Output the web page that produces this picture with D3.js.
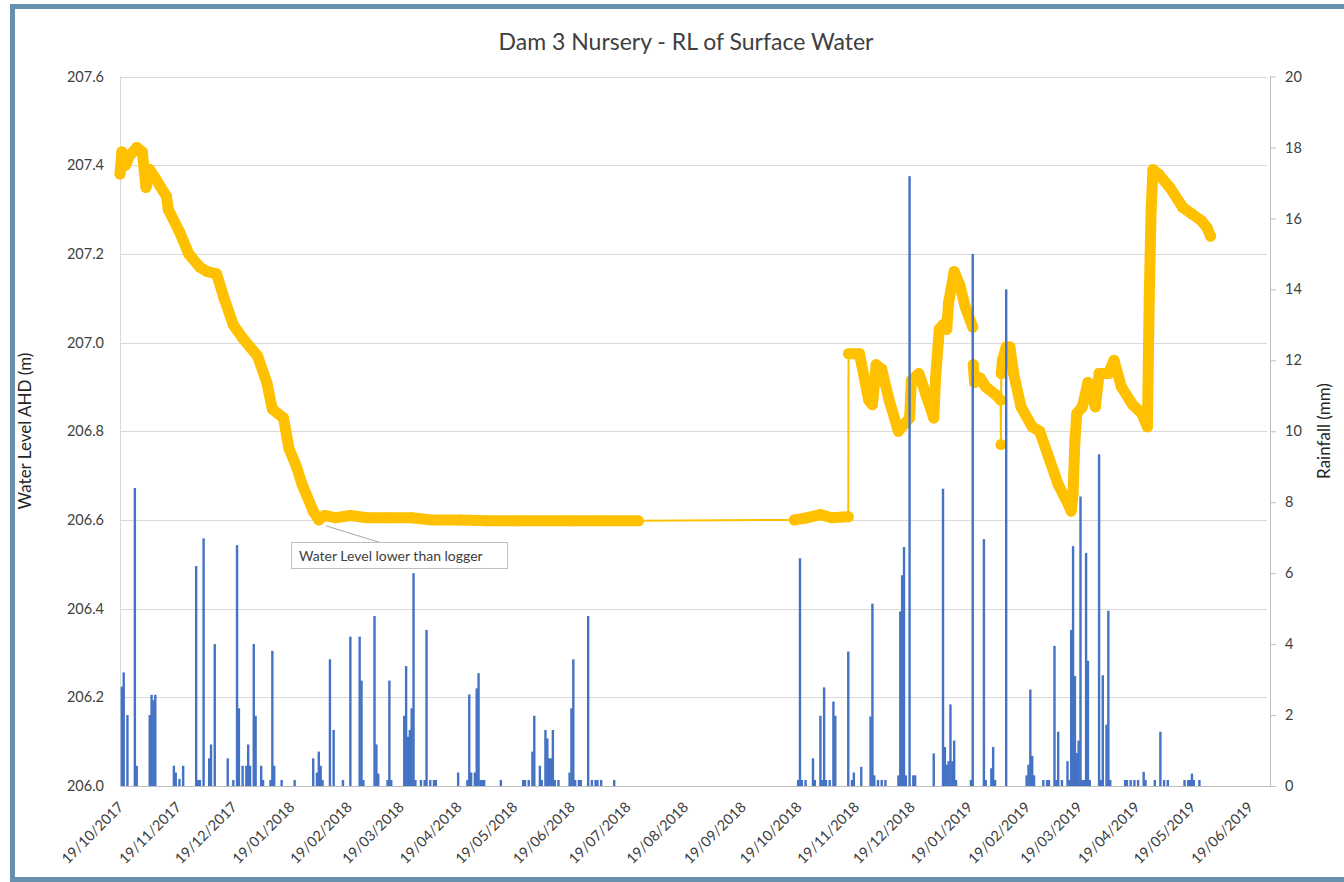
<!DOCTYPE html>
<html><head><meta charset="utf-8">
<script src="https://cdn.jsdelivr.net/npm/d3@7"></script>
<style>
body{margin:0;background:#fff}
svg{display:block}
text{font-family:Lato,'Open Sans',sans-serif}
</style>
</head><body>
<svg id="chart" width="1344" height="882"></svg>
<script>
// ---------------- DATA ----------------
const chartTitle = "Dam 3 Nursery - RL of Surface Water";
const leftTitle = "Water Level AHD (m)";
const rightTitle = "Rainfall (mm)";
const annotationText = "Water Level lower than logger";
const annotationDate = "2018-02-07";
const annotationValue = 206.6;

const xTickLabels = ["19/10/2017","19/11/2017","19/12/2017","19/01/2018","19/02/2018","19/03/2018","19/04/2018",
  "19/05/2018","19/06/2018","19/07/2018","19/08/2018","19/09/2018","19/10/2018","19/11/2018","19/12/2018",
  "19/01/2019","19/02/2019","19/03/2019","19/04/2019","19/05/2019","19/06/2019"];
const xAxisEnd = "2019-06-30";
const leftTicks = [206.0,206.2,206.4,206.6,206.8,207.0,207.2,207.4,207.6];
const rightTicks = [0,2,4,6,8,10,12,14,16,18,20];

const levelDates = [
 "2017-10-19","2017-10-20","2017-10-22","2017-10-24","2017-10-28","2017-10-31","2017-11-02","2017-11-04",
 "2017-11-07","2017-11-10","2017-11-13","2017-11-14","2017-11-20","2017-11-25","2017-12-01","2017-12-05",
 "2017-12-10","2017-12-14","2017-12-19","2017-12-24","2017-12-28","2018-01-01","2018-01-06","2018-01-09",
 "2018-01-15","2018-01-18","2018-01-22","2018-01-25","2018-01-31","2018-02-03","2018-02-06","2018-02-12",
 "2018-02-20","2018-03-01","2018-03-12","2018-03-25","2018-04-05","2018-04-20","2018-05-05","2018-05-20",
 "2018-06-05","2018-06-20","2018-07-05","2018-07-25",
 "2018-10-17","2018-10-24","2018-10-31","2018-11-06","2018-11-15 00:00","2018-11-15 03:00",
 "2018-11-21","2018-11-26","2018-11-28","2018-11-30","2018-12-03","2018-12-07","2018-12-12","2018-12-18",
 "2018-12-19","2018-12-23","2018-12-27","2018-12-31","2019-01-01","2019-01-03","2019-01-05","2019-01-07",
 "2019-01-08","2019-01-11","2019-01-14","2019-01-17","2019-01-21 00:00","2019-01-21 06:00","2019-01-22",
 "2019-01-25","2019-01-28","2019-02-03","2019-02-05 00:00","2019-02-05 04:00","2019-02-05 08:00",
 "2019-02-06","2019-02-08","2019-02-10","2019-02-12","2019-02-16","2019-02-22","2019-02-26","2019-03-03",
 "2019-03-08","2019-03-14","2019-03-15","2019-03-16","2019-03-17","2019-03-18","2019-03-21","2019-03-24",
 "2019-03-28","2019-03-30","2019-04-04","2019-04-07","2019-04-11","2019-04-17","2019-04-22","2019-04-25",
 "2019-04-26","2019-04-27","2019-04-28","2019-05-01","2019-05-07","2019-05-14","2019-05-19","2019-05-24",
 "2019-05-27","2019-05-29"];
const levelValues = [
 207.38,207.43,207.40,207.42,207.44,207.43,207.35,207.39,
 207.37,207.35,207.33,207.30,207.25,207.20,207.17,207.16,
 207.155,207.10,207.04,207.01,206.99,206.97,206.91,206.85,
 206.83,206.76,206.72,206.68,206.62,206.60,206.61,206.605,
 206.61,206.605,206.605,206.605,206.60,206.60,206.598,206.598,
 206.598,206.598,206.598,206.598,
 206.60,206.605,206.612,206.605,206.607,206.975,
 206.975,206.87,206.86,206.95,206.94,206.87,206.80,206.83,
 206.915,206.93,206.88,206.83,206.92,207.03,207.04,207.03,
 207.09,207.16,207.13,207.08,207.035,206.95,206.91,
 206.92,206.90,206.88,206.87,206.77,206.93,
 206.96,206.99,206.99,206.93,206.855,206.81,206.80,206.74,
 206.68,206.63,206.62,206.66,206.78,206.84,206.855,206.91,
 206.855,206.93,206.93,206.96,206.90,206.86,206.84,206.81,
 207.10,207.30,207.39,207.38,207.35,207.305,207.29,207.275,
 207.26,207.24];

const rainDates = [
 "2017-10-20","2017-10-21","2017-10-23","2017-10-27","2017-10-28","2017-11-04","2017-11-05","2017-11-06",
 "2017-11-07","2017-11-17","2017-11-18","2017-11-20","2017-11-22","2017-11-29","2017-11-30","2017-12-01",
 "2017-12-03","2017-12-06","2017-12-07","2017-12-09","2017-12-16","2017-12-19","2017-12-21","2017-12-22",
 "2017-12-24","2017-12-26","2017-12-27","2017-12-28","2017-12-30","2017-12-31","2018-01-03","2018-01-04",
 "2018-01-08","2018-01-09","2018-01-10","2018-01-14","2018-01-21","2018-01-31","2018-02-02","2018-02-03",
 "2018-02-04","2018-02-05","2018-02-09","2018-02-11","2018-02-16","2018-02-20","2018-02-25","2018-02-26",
 "2018-02-27","2018-03-05","2018-03-06","2018-03-07","2018-03-12","2018-03-13","2018-03-14","2018-03-21",
 "2018-03-22","2018-03-23","2018-03-24","2018-03-25","2018-03-26","2018-03-27","2018-03-30","2018-04-01",
 "2018-04-02","2018-04-04","2018-04-06","2018-04-07","2018-04-19","2018-04-24","2018-04-25","2018-04-26",
 "2018-04-28","2018-04-29","2018-04-30","2018-05-01","2018-05-02","2018-05-03","2018-05-12","2018-05-24",
 "2018-05-25","2018-05-27","2018-05-29","2018-05-30","2018-06-02","2018-06-03","2018-06-05","2018-06-06",
 "2018-06-07","2018-06-08","2018-06-09","2018-06-10","2018-06-12","2018-06-18","2018-06-19","2018-06-20",
 "2018-06-21","2018-06-23","2018-06-24","2018-06-28","2018-06-30","2018-07-02","2018-07-03","2018-07-05",
 "2018-07-12",
 "2018-10-19","2018-10-20","2018-10-21","2018-10-23","2018-10-27","2018-10-28","2018-10-31","2018-11-01",
 "2018-11-02","2018-11-03","2018-11-05","2018-11-07","2018-11-08","2018-11-15","2018-11-17","2018-11-18",
 "2018-11-22","2018-11-27","2018-11-28","2018-11-29","2018-12-01","2018-12-03","2018-12-05","2018-12-12",
 "2018-12-13","2018-12-14","2018-12-15","2018-12-16","2018-12-18","2018-12-20","2018-12-21","2018-12-31",
 "2019-01-05","2019-01-06","2019-01-07","2019-01-08","2019-01-09","2019-01-10","2019-01-11","2019-01-12",
 "2019-01-20","2019-01-21","2019-01-27","2019-01-28","2019-01-31","2019-02-01","2019-02-02","2019-02-08",
 "2019-02-19","2019-02-20","2019-02-21","2019-02-22","2019-02-23","2019-02-28","2019-03-02","2019-03-03",
 "2019-03-06","2019-03-07","2019-03-08","2019-03-10","2019-03-13","2019-03-14","2019-03-15","2019-03-16",
 "2019-03-17","2019-03-18","2019-03-19","2019-03-20","2019-03-21","2019-03-22","2019-03-23","2019-03-24",
 "2019-03-25","2019-03-30","2019-03-31","2019-04-01","2019-04-03","2019-04-04","2019-04-05","2019-04-13",
 "2019-04-14","2019-04-16","2019-04-18","2019-04-20","2019-04-23","2019-04-24","2019-04-29","2019-05-02",
 "2019-05-04","2019-05-06","2019-05-15","2019-05-17","2019-05-18","2019-05-19","2019-05-20","2019-05-23"];
const rainValues = [
 2.8,3.2,2.0,8.4,0.57,2.0,2.57,2.42,
 2.57,0.57,0.38,0.2,0.57,6.2,0.17,0.17,
 6.98,0.78,1.17,4.0,0.78,0.17,6.79,2.19,
 0.57,0.57,1.17,0.57,4.0,1.98,0.57,0.17,
 0.17,3.81,0.57,0.17,0.17,0.78,0.38,0.97,
 0.57,0.17,3.57,1.58,0.17,4.21,4.21,2.97,
 0.17,4.79,1.17,0.35,0.17,2.97,0.17,1.98,
 3.38,1.39,1.58,2.19,6.0,0.17,0.17,0.17,
 4.4,0.17,0.17,0.17,0.38,0.17,2.58,0.38,
 0.38,2.75,3.18,0.17,0.17,0.17,0.17,0.17,
 0.17,0.17,0.97,1.98,0.57,0.17,1.58,1.34,
 0.78,0.78,1.58,0.17,0.17,0.38,2.19,3.57,
 0.17,0.17,0.17,4.79,0.17,0.17,0.17,0.17,
 0.17,
 0.17,6.42,0.17,0.17,0.78,0.17,1.98,0.17,
 2.78,0.17,0.17,2.38,1.98,3.79,0.17,0.38,
 0.54,1.96,5.14,0.3,0.17,0.17,0.17,0.3,
 4.92,5.94,6.74,0.3,17.19,0.3,0.3,0.92,
 8.38,1.1,0.6,0.7,2.3,0.7,1.28,0.17,
 0.17,15.0,6.96,0.17,0.5,1.1,0.17,14.0,
 0.3,0.6,2.72,0.85,0.3,0.17,0.17,0.17,
 3.95,0.17,1.53,0.17,0.7,0.17,4.4,6.76,
 3.1,0.93,1.28,8.16,0.17,0.17,6.57,3.53,
 0.17,9.35,0.17,3.12,1.73,4.94,0.17,0.17,
 0.17,0.17,0.17,0.17,0.4,0.17,0.17,1.53,
 0.17,0.17,0.17,0.17,0.17,0.35,0.17,0.17];

// ---------------- CHART ----------------
const parseDay = d3.timeParse("%Y-%m-%d");
const parseHour = d3.timeParse("%Y-%m-%d %H:%M");
const parseTick = d3.timeParse("%d/%m/%Y");
const P = s => s.length > 10 ? parseHour(s) : parseDay(s);

const svg = d3.select("#chart");
const M = {l:120, r:1270, t:76.5, b:786};
const textCol = "#404040";
const FONT = "Lato,'Open Sans',sans-serif";

const x = d3.scaleTime().domain([parseTick(xTickLabels[0]), parseDay(xAxisEnd)]).range([M.l, M.r]);
const yL = d3.scaleLinear().domain([leftTicks[0], leftTicks[leftTicks.length-1]]).range([M.b, M.t]);
const yR = d3.scaleLinear().domain([rightTicks[0], rightTicks[rightTicks.length-1]]).range([M.b, M.t]);

svg.append("rect").attr("x",0).attr("y",0).attr("width",1344).attr("height",882).attr("fill","#fff");

// gridlines
svg.append("g").selectAll("line").data(leftTicks.slice(1)).join("line")
  .attr("x1", M.l).attr("x2", M.r - 3)
  .attr("y1", d => Math.round(yL(d)) + 0.5).attr("y2", d => Math.round(yL(d)) + 0.5)
  .attr("stroke", "#d9d9d9").attr("stroke-width", 1);

// left axis
const gL = svg.append("g").attr("transform", `translate(${M.l},0)`)
  .call(d3.axisLeft(yL).tickValues(leftTicks).tickFormat(d3.format(".1f")).tickSize(0).tickPadding(16));
gL.select(".domain").remove();
gL.selectAll("text").attr("font-family",FONT).attr("font-size",14.5).attr("fill",textCol);
svg.append("line").attr("x1",M.l+0.5).attr("x2",M.l+0.5).attr("y1",M.t).attr("y2",M.b).attr("stroke","#d9d9d9");

// right axis
const gR = svg.append("g").attr("transform", `translate(${M.r},0)`)
  .call(d3.axisRight(yR).tickValues(rightTicks).tickSize(6).tickSizeOuter(0).tickPadding(9));
gR.select(".domain").attr("stroke","#bfbfbf");
gR.selectAll(".tick line").attr("stroke","#bfbfbf");
gR.selectAll("text").attr("font-family",FONT).attr("font-size",14.5).attr("fill",textCol);

// bottom axis
const gX = svg.append("g").attr("transform", `translate(0,${M.b})`)
  .call(d3.axisBottom(x).tickValues(xTickLabels.map(parseTick)).tickFormat(d3.timeFormat("%d/%m/%Y")).tickSize(0).tickSizeOuter(0));
gX.select(".domain").attr("stroke","#bfbfbf");
gX.selectAll("text").attr("font-family",FONT).attr("font-size",14.5).attr("fill",textCol)
  .attr("text-anchor","end").attr("x",0).attr("y",0).attr("dy",0)
  .attr("transform","translate(4,22) rotate(-45)");

// water level line (thin where logger had a gap or a sudden step)
const pts = levelDates.map((d,i) => ({t: P(d), v: levelValues[i]}));
const lineG = svg.append("g");
let run = [pts[0]];
const runs = [], thin = [];
for (let i = 1; i < pts.length; i++) {
  const dt = (pts[i].t - pts[i-1].t) / 864e5;
  if (dt > 40 || dt < 0.5) {
    thin.push([pts[i-1], pts[i]]);
    runs.push(run); run = [pts[i]];
  } else run.push(pts[i]);
}
runs.push(run);
const lineGen = d3.line().x(d => x(d.t)).y(d => yL(d.v));
lineG.selectAll("path.thin").data(thin).join("path").attr("class","thin")
  .attr("d", lineGen).attr("fill","none").attr("stroke","#FFC000").attr("stroke-width",2);
lineG.selectAll("path.thick").data(runs.filter(r => r.length > 1)).join("path").attr("class","thick")
  .attr("d", lineGen).attr("fill","none").attr("stroke","#FFC000").attr("stroke-width",11)
  .attr("stroke-linejoin","round").attr("stroke-linecap","round");
lineG.selectAll("circle").data(pts).join("circle")
  .attr("cx", d => x(d.t)).attr("cy", d => yL(d.v)).attr("r", 5.5).attr("fill","#FFC000");

// rainfall bars
const bw = 2.4;
svg.append("g").selectAll("rect").data(rainDates.map((d,i) => ({t: parseDay(d), v: rainValues[i]}))).join("rect")
  .attr("x", d => x(d.t) - bw/2).attr("width", bw)
  .attr("y", d => yR(d.v)).attr("height", d => M.b - yR(d.v))
  .attr("fill","#4472C4");

// annotation
const ax = x(parseDay(annotationDate)), ay = yL(annotationValue);
svg.append("line").attr("x1", 380).attr("y1", 542.5).attr("x2", ax).attr("y2", ay + 6)
  .attr("stroke","#a6a6a6").attr("stroke-width",1);
svg.append("rect").attr("x",291.5).attr("y",542.5).attr("width",216).attr("height",26)
  .attr("fill","#fff").attr("stroke","#bfbfbf");
svg.append("text").attr("x",299).attr("y",561).attr("font-size",14).attr("fill",textCol).text(annotationText);

// titles
svg.append("text").attr("x",686).attr("y",50).attr("text-anchor","middle").attr("font-size",23).attr("fill",textCol).text(chartTitle);
svg.append("text").attr("transform","translate(31,431) rotate(-90)").attr("text-anchor","middle").attr("font-size",17).attr("fill","#262626").text(leftTitle);
svg.append("text").attr("transform","translate(1330,431) rotate(-90)").attr("text-anchor","middle").attr("font-size",17).attr("fill","#262626").text(rightTitle);

// frame
svg.append("rect").attr("x",12.5).attr("y",6.5).attr("width",1345).attr("height",873)
  .attr("fill","none").attr("stroke","#6690ad").attr("stroke-width",5);
</script>
</body></html>
